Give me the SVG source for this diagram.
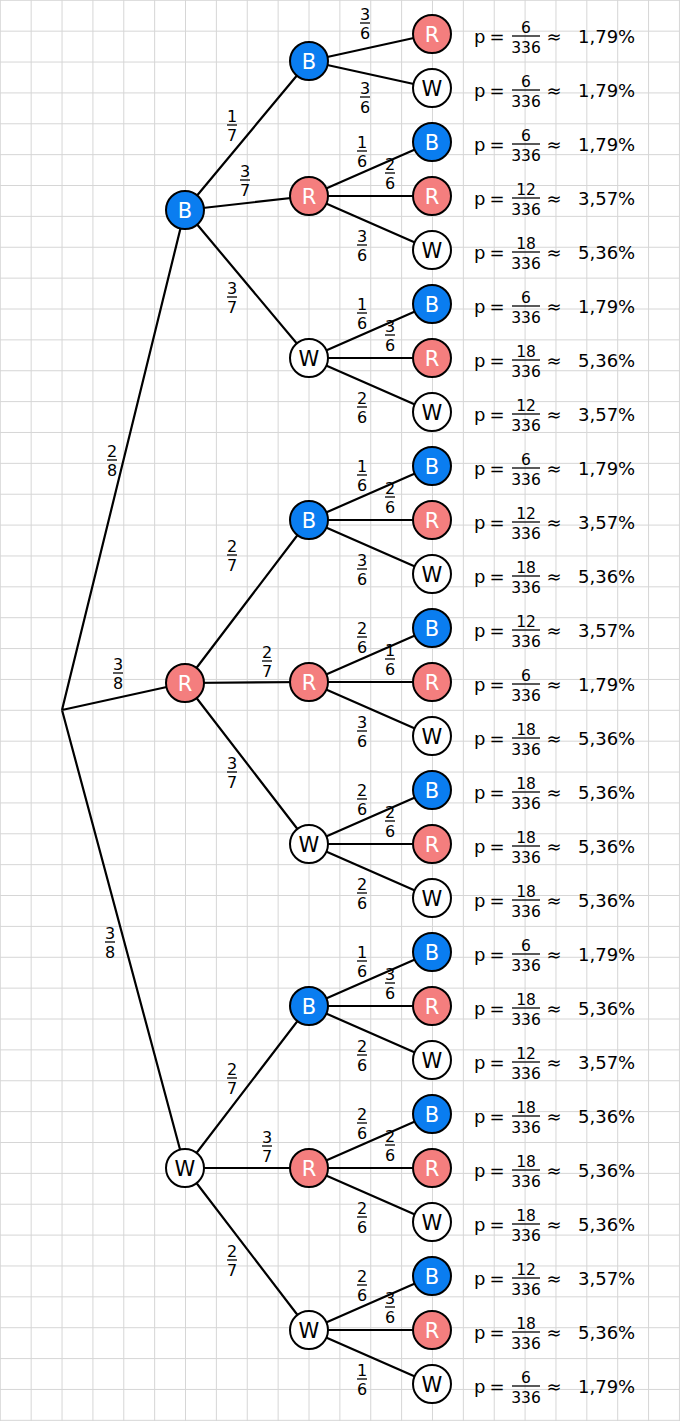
<svg xmlns="http://www.w3.org/2000/svg" width="680" height="1421" viewBox="0 0 680 1421">
<style>
.grid{stroke:#d6d6d6;stroke-width:1;fill:none}
.edge{stroke:#000;stroke-width:2.2;fill:none}
.nb{fill:#0a7df0;stroke:#000;stroke-width:2}
.nr{fill:#f47e7e;stroke:#000;stroke-width:2}
.nw{fill:#fff;stroke:#000;stroke-width:2}
.lw{font-family:"DejaVu Sans",sans-serif;font-size:21px;fill:#fff;text-anchor:middle}
.lk{font-family:"DejaVu Sans",sans-serif;font-size:21px;fill:#000;text-anchor:middle}
.f{font-family:"DejaVu Sans",sans-serif;font-size:16px;fill:#000;text-anchor:middle}
.g{font-family:"DejaVu Sans",sans-serif;font-size:15.5px;fill:#000;text-anchor:middle}
.m{font-family:"DejaVu Sans",sans-serif;font-size:18px;fill:#000}
.mc{font-family:"DejaVu Sans",sans-serif;font-size:18px;fill:#000;text-anchor:middle}
.bar{stroke:#000;stroke-width:1.3}
</style>
<defs>
<g id="pe"><text class="m" x="474" y="0">p</text><text class="mc" x="497" y="0">=</text></g>
</defs>
<rect x="0" y="0" width="680" height="1421" fill="#fff"/>
<path class="grid" d="M0.3 0V1421M31.17 0V1421M62.04 0V1421M92.91 0V1421M123.78 0V1421M154.65 0V1421M185.52 0V1421M216.39 0V1421M247.26 0V1421M278.13 0V1421M309 0V1421M339.87 0V1421M370.74 0V1421M401.61 0V1421M432.48 0V1421M463.35 0V1421M494.22 0V1421M525.09 0V1421M555.96 0V1421M586.83 0V1421M617.7 0V1421M648.57 0V1421M679.44 0V1421
M0 0.3H680M0 31.17H680M0 62.04H680M0 92.91H680M0 123.78H680M0 154.65H680M0 185.52H680M0 216.39H680M0 247.26H680M0 278.13H680M0 309H680M0 339.87H680M0 370.74H680M0 401.61H680M0 432.48H680M0 463.35H680M0 494.22H680M0 525.09H680M0 555.96H680M0 586.83H680M0 617.7H680M0 648.57H680M0 679.44H680M0 710.31H680M0 741.18H680M0 772.05H680M0 802.92H680M0 833.79H680M0 864.66H680M0 895.53H680M0 926.4H680M0 957.27H680M0 988.14H680M0 1019.01H680M0 1049.88H680M0 1080.75H680M0 1111.62H680M0 1142.49H680M0 1173.36H680M0 1204.23H680M0 1235.1H680M0 1265.97H680M0 1296.84H680M0 1327.71H680M0 1358.58H680M0 1389.45H680M0 1420.32H680"/>

<g id="connectors" class="edge">
<path d="M62 710L185 210M62 710L185 683M62 710L185 1168"/>
<path d="M185 210L309 61M185 210L309 196M185 210L309 358"/>
<path d="M185 683L309 520M185 683L309 682M185 683L309 844"/>
<path d="M185 1168L309 1006M185 1168L309 1168M185 1168L309 1330"/>
<path d="M309 61L432 34M309 61L432 88"/>
<path d="M309 196L432 142M309 196L432 196M309 196L432 250"/>
<path d="M309 358L432 304M309 358L432 358M309 358L432 412"/>
<path d="M309 520L432 466M309 520L432 520M309 520L432 574"/>
<path d="M309 682L432 628M309 682L432 682M309 682L432 736"/>
<path d="M309 844L432 790M309 844L432 844M309 844L432 898"/>
<path d="M309 1006L432 952M309 1006L432 1006M309 1006L432 1060"/>
<path d="M309 1168L432 1114M309 1168L432 1168M309 1168L432 1222"/>
<path d="M309 1330L432 1276M309 1330L432 1330M309 1330L432 1384"/>
</g>

<g id="edge-labels">
<g><text class="f" x="112" y="457">2</text><line class="bar" x1="107" x2="117" y1="460" y2="460"/><text class="f" x="112" y="476">8</text></g>
<g><text class="f" x="118" y="670">3</text><line class="bar" x1="113" x2="123" y1="673" y2="673"/><text class="f" x="118" y="689">8</text></g>
<g><text class="f" x="110" y="939">3</text><line class="bar" x1="105" x2="115" y1="942" y2="942"/><text class="f" x="110" y="958">8</text></g>

<g><text class="f" x="232" y="122">1</text><line class="bar" x1="227" x2="237" y1="125" y2="125"/><text class="f" x="232" y="141">7</text></g>
<g><text class="f" x="245" y="177">3</text><line class="bar" x1="240" x2="250" y1="180" y2="180"/><text class="f" x="245" y="196">7</text></g>
<g><text class="f" x="232" y="294">3</text><line class="bar" x1="227" x2="237" y1="297" y2="297"/><text class="f" x="232" y="313">7</text></g>
<g><text class="f" x="232" y="552">2</text><line class="bar" x1="227" x2="237" y1="555" y2="555"/><text class="f" x="232" y="571">7</text></g>
<g><text class="f" x="267" y="658">2</text><line class="bar" x1="262" x2="272" y1="661" y2="661"/><text class="f" x="267" y="677">7</text></g>
<g><text class="f" x="232" y="769">3</text><line class="bar" x1="227" x2="237" y1="772" y2="772"/><text class="f" x="232" y="788">7</text></g>
<g><text class="f" x="232" y="1075">2</text><line class="bar" x1="227" x2="237" y1="1078" y2="1078"/><text class="f" x="232" y="1094">7</text></g>
<g><text class="f" x="267" y="1143">3</text><line class="bar" x1="262" x2="272" y1="1146" y2="1146"/><text class="f" x="267" y="1162">7</text></g>
<g><text class="f" x="232" y="1257">2</text><line class="bar" x1="227" x2="237" y1="1260" y2="1260"/><text class="f" x="232" y="1276">7</text></g>

<g><text class="f" x="365" y="20">3</text><line class="bar" x1="360" x2="370" y1="23" y2="23"/><text class="f" x="365" y="39">6</text></g>
<g><text class="f" x="365" y="94">3</text><line class="bar" x1="360" x2="370" y1="97" y2="97"/><text class="f" x="365" y="113">6</text></g>

<g><text class="f" x="362" y="148">1</text><line class="bar" x1="357" x2="367" y1="151" y2="151"/><text class="f" x="362" y="167">6</text></g>
<g><text class="f" x="390" y="170">2</text><line class="bar" x1="385" x2="395" y1="173" y2="173"/><text class="f" x="390" y="189">6</text></g>
<g><text class="f" x="362" y="242">3</text><line class="bar" x1="357" x2="367" y1="245" y2="245"/><text class="f" x="362" y="261">6</text></g>

<g><text class="f" x="362" y="310">1</text><line class="bar" x1="357" x2="367" y1="313" y2="313"/><text class="f" x="362" y="329">6</text></g>
<g><text class="f" x="390" y="332">3</text><line class="bar" x1="385" x2="395" y1="335" y2="335"/><text class="f" x="390" y="351">6</text></g>
<g><text class="f" x="362" y="404">2</text><line class="bar" x1="357" x2="367" y1="407" y2="407"/><text class="f" x="362" y="423">6</text></g>

<g><text class="f" x="362" y="472">1</text><line class="bar" x1="357" x2="367" y1="475" y2="475"/><text class="f" x="362" y="491">6</text></g>
<g><text class="f" x="390" y="494">2</text><line class="bar" x1="385" x2="395" y1="497" y2="497"/><text class="f" x="390" y="513">6</text></g>
<g><text class="f" x="362" y="566">3</text><line class="bar" x1="357" x2="367" y1="569" y2="569"/><text class="f" x="362" y="585">6</text></g>

<g><text class="f" x="362" y="634">2</text><line class="bar" x1="357" x2="367" y1="637" y2="637"/><text class="f" x="362" y="653">6</text></g>
<g><text class="f" x="390" y="656">1</text><line class="bar" x1="385" x2="395" y1="659" y2="659"/><text class="f" x="390" y="675">6</text></g>
<g><text class="f" x="362" y="728">3</text><line class="bar" x1="357" x2="367" y1="731" y2="731"/><text class="f" x="362" y="747">6</text></g>

<g><text class="f" x="362" y="796">2</text><line class="bar" x1="357" x2="367" y1="799" y2="799"/><text class="f" x="362" y="815">6</text></g>
<g><text class="f" x="390" y="818">2</text><line class="bar" x1="385" x2="395" y1="821" y2="821"/><text class="f" x="390" y="837">6</text></g>
<g><text class="f" x="362" y="890">2</text><line class="bar" x1="357" x2="367" y1="893" y2="893"/><text class="f" x="362" y="909">6</text></g>

<g><text class="f" x="362" y="958">1</text><line class="bar" x1="357" x2="367" y1="961" y2="961"/><text class="f" x="362" y="977">6</text></g>
<g><text class="f" x="390" y="980">3</text><line class="bar" x1="385" x2="395" y1="983" y2="983"/><text class="f" x="390" y="999">6</text></g>
<g><text class="f" x="362" y="1052">2</text><line class="bar" x1="357" x2="367" y1="1055" y2="1055"/><text class="f" x="362" y="1071">6</text></g>

<g><text class="f" x="362" y="1120">2</text><line class="bar" x1="357" x2="367" y1="1123" y2="1123"/><text class="f" x="362" y="1139">6</text></g>
<g><text class="f" x="390" y="1142">2</text><line class="bar" x1="385" x2="395" y1="1145" y2="1145"/><text class="f" x="390" y="1161">6</text></g>
<g><text class="f" x="362" y="1214">2</text><line class="bar" x1="357" x2="367" y1="1217" y2="1217"/><text class="f" x="362" y="1233">6</text></g>

<g><text class="f" x="362" y="1282">2</text><line class="bar" x1="357" x2="367" y1="1285" y2="1285"/><text class="f" x="362" y="1301">6</text></g>
<g><text class="f" x="390" y="1304">3</text><line class="bar" x1="385" x2="395" y1="1307" y2="1307"/><text class="f" x="390" y="1323">6</text></g>
<g><text class="f" x="362" y="1376">1</text><line class="bar" x1="357" x2="367" y1="1379" y2="1379"/><text class="f" x="362" y="1395">6</text></g>
</g>

<g id="nodes">
<g id="n1B"><circle class="nb" cx="185" cy="210" r="19"/><text class="lw" x="185" y="217.6">B</text></g>
<g id="n1R"><circle class="nr" cx="185" cy="683" r="19"/><text class="lw" x="185" y="690.6">R</text></g>
<g id="n1W"><circle class="nw" cx="185" cy="1168" r="19"/><text class="lk" x="185" y="1175.6">W</text></g>

<g id="n2BB"><circle class="nb" cx="309" cy="61" r="19"/><text class="lw" x="309" y="68.6">B</text></g>
<g id="n2BR"><circle class="nr" cx="309" cy="196" r="19"/><text class="lw" x="309" y="203.6">R</text></g>
<g id="n2BW"><circle class="nw" cx="309" cy="358" r="19"/><text class="lk" x="309" y="365.6">W</text></g>
<g id="n2RB"><circle class="nb" cx="309" cy="520" r="19"/><text class="lw" x="309" y="527.6">B</text></g>
<g id="n2RR"><circle class="nr" cx="309" cy="682" r="19"/><text class="lw" x="309" y="689.6">R</text></g>
<g id="n2RW"><circle class="nw" cx="309" cy="844" r="19"/><text class="lk" x="309" y="851.6">W</text></g>
<g id="n2WB"><circle class="nb" cx="309" cy="1006" r="19"/><text class="lw" x="309" y="1013.6">B</text></g>
<g id="n2WR"><circle class="nr" cx="309" cy="1168" r="19"/><text class="lw" x="309" y="1175.6">R</text></g>
<g id="n2WW"><circle class="nw" cx="309" cy="1330" r="19"/><text class="lk" x="309" y="1337.6">W</text></g>

<g id="L01"><circle class="nr" cx="432" cy="34" r="19"/><text class="lw" x="432" y="41.6">R</text></g>
<g id="L02"><circle class="nw" cx="432" cy="88" r="19"/><text class="lk" x="432" y="95.6">W</text></g>
<g id="L03"><circle class="nb" cx="432" cy="142" r="19"/><text class="lw" x="432" y="149.6">B</text></g>
<g id="L04"><circle class="nr" cx="432" cy="196" r="19"/><text class="lw" x="432" y="203.6">R</text></g>
<g id="L05"><circle class="nw" cx="432" cy="250" r="19"/><text class="lk" x="432" y="257.6">W</text></g>
<g id="L06"><circle class="nb" cx="432" cy="304" r="19"/><text class="lw" x="432" y="311.6">B</text></g>
<g id="L07"><circle class="nr" cx="432" cy="358" r="19"/><text class="lw" x="432" y="365.6">R</text></g>
<g id="L08"><circle class="nw" cx="432" cy="412" r="19"/><text class="lk" x="432" y="419.6">W</text></g>
<g id="L09"><circle class="nb" cx="432" cy="466" r="19"/><text class="lw" x="432" y="473.6">B</text></g>
<g id="L10"><circle class="nr" cx="432" cy="520" r="19"/><text class="lw" x="432" y="527.6">R</text></g>
<g id="L11"><circle class="nw" cx="432" cy="574" r="19"/><text class="lk" x="432" y="581.6">W</text></g>
<g id="L12"><circle class="nb" cx="432" cy="628" r="19"/><text class="lw" x="432" y="635.6">B</text></g>
<g id="L13"><circle class="nr" cx="432" cy="682" r="19"/><text class="lw" x="432" y="689.6">R</text></g>
<g id="L14"><circle class="nw" cx="432" cy="736" r="19"/><text class="lk" x="432" y="743.6">W</text></g>
<g id="L15"><circle class="nb" cx="432" cy="790" r="19"/><text class="lw" x="432" y="797.6">B</text></g>
<g id="L16"><circle class="nr" cx="432" cy="844" r="19"/><text class="lw" x="432" y="851.6">R</text></g>
<g id="L17"><circle class="nw" cx="432" cy="898" r="19"/><text class="lk" x="432" y="905.6">W</text></g>
<g id="L18"><circle class="nb" cx="432" cy="952" r="19"/><text class="lw" x="432" y="959.6">B</text></g>
<g id="L19"><circle class="nr" cx="432" cy="1006" r="19"/><text class="lw" x="432" y="1013.6">R</text></g>
<g id="L20"><circle class="nw" cx="432" cy="1060" r="19"/><text class="lk" x="432" y="1067.6">W</text></g>
<g id="L21"><circle class="nb" cx="432" cy="1114" r="19"/><text class="lw" x="432" y="1121.6">B</text></g>
<g id="L22"><circle class="nr" cx="432" cy="1168" r="19"/><text class="lw" x="432" y="1175.6">R</text></g>
<g id="L23"><circle class="nw" cx="432" cy="1222" r="19"/><text class="lk" x="432" y="1229.6">W</text></g>
<g id="L24"><circle class="nb" cx="432" cy="1276" r="19"/><text class="lw" x="432" y="1283.6">B</text></g>
<g id="L25"><circle class="nr" cx="432" cy="1330" r="19"/><text class="lw" x="432" y="1337.6">R</text></g>
<g id="L26"><circle class="nw" cx="432" cy="1384" r="19"/><text class="lk" x="432" y="1391.6">W</text></g>
</g>

<g id="probabilities">
<g><use href="#pe" y="43"/><text class="g" x="526" y="33">6</text><line class="bar" x1="512" x2="540" y1="36" y2="36"/><text class="g" x="526" y="53">336</text><text class="mc" x="554" y="43">≈</text><text class="m" x="578" y="43">1,79%</text></g>
<g><use href="#pe" y="97"/><text class="g" x="526" y="87">6</text><line class="bar" x1="512" x2="540" y1="90" y2="90"/><text class="g" x="526" y="107">336</text><text class="mc" x="554" y="97">≈</text><text class="m" x="578" y="97">1,79%</text></g>
<g><use href="#pe" y="151"/><text class="g" x="526" y="141">6</text><line class="bar" x1="512" x2="540" y1="144" y2="144"/><text class="g" x="526" y="161">336</text><text class="mc" x="554" y="151">≈</text><text class="m" x="578" y="151">1,79%</text></g>
<g><use href="#pe" y="205"/><text class="g" x="526" y="195">12</text><line class="bar" x1="512" x2="540" y1="198" y2="198"/><text class="g" x="526" y="215">336</text><text class="mc" x="554" y="205">≈</text><text class="m" x="578" y="205">3,57%</text></g>
<g><use href="#pe" y="259"/><text class="g" x="526" y="249">18</text><line class="bar" x1="512" x2="540" y1="252" y2="252"/><text class="g" x="526" y="269">336</text><text class="mc" x="554" y="259">≈</text><text class="m" x="578" y="259">5,36%</text></g>
<g><use href="#pe" y="313"/><text class="g" x="526" y="303">6</text><line class="bar" x1="512" x2="540" y1="306" y2="306"/><text class="g" x="526" y="323">336</text><text class="mc" x="554" y="313">≈</text><text class="m" x="578" y="313">1,79%</text></g>
<g><use href="#pe" y="367"/><text class="g" x="526" y="357">18</text><line class="bar" x1="512" x2="540" y1="360" y2="360"/><text class="g" x="526" y="377">336</text><text class="mc" x="554" y="367">≈</text><text class="m" x="578" y="367">5,36%</text></g>
<g><use href="#pe" y="421"/><text class="g" x="526" y="411">12</text><line class="bar" x1="512" x2="540" y1="414" y2="414"/><text class="g" x="526" y="431">336</text><text class="mc" x="554" y="421">≈</text><text class="m" x="578" y="421">3,57%</text></g>
<g><use href="#pe" y="475"/><text class="g" x="526" y="465">6</text><line class="bar" x1="512" x2="540" y1="468" y2="468"/><text class="g" x="526" y="485">336</text><text class="mc" x="554" y="475">≈</text><text class="m" x="578" y="475">1,79%</text></g>
<g><use href="#pe" y="529"/><text class="g" x="526" y="519">12</text><line class="bar" x1="512" x2="540" y1="522" y2="522"/><text class="g" x="526" y="539">336</text><text class="mc" x="554" y="529">≈</text><text class="m" x="578" y="529">3,57%</text></g>
<g><use href="#pe" y="583"/><text class="g" x="526" y="573">18</text><line class="bar" x1="512" x2="540" y1="576" y2="576"/><text class="g" x="526" y="593">336</text><text class="mc" x="554" y="583">≈</text><text class="m" x="578" y="583">5,36%</text></g>
<g><use href="#pe" y="637"/><text class="g" x="526" y="627">12</text><line class="bar" x1="512" x2="540" y1="630" y2="630"/><text class="g" x="526" y="647">336</text><text class="mc" x="554" y="637">≈</text><text class="m" x="578" y="637">3,57%</text></g>
<g><use href="#pe" y="691"/><text class="g" x="526" y="681">6</text><line class="bar" x1="512" x2="540" y1="684" y2="684"/><text class="g" x="526" y="701">336</text><text class="mc" x="554" y="691">≈</text><text class="m" x="578" y="691">1,79%</text></g>
<g><use href="#pe" y="745"/><text class="g" x="526" y="735">18</text><line class="bar" x1="512" x2="540" y1="738" y2="738"/><text class="g" x="526" y="755">336</text><text class="mc" x="554" y="745">≈</text><text class="m" x="578" y="745">5,36%</text></g>
<g><use href="#pe" y="799"/><text class="g" x="526" y="789">18</text><line class="bar" x1="512" x2="540" y1="792" y2="792"/><text class="g" x="526" y="809">336</text><text class="mc" x="554" y="799">≈</text><text class="m" x="578" y="799">5,36%</text></g>
<g><use href="#pe" y="853"/><text class="g" x="526" y="843">18</text><line class="bar" x1="512" x2="540" y1="846" y2="846"/><text class="g" x="526" y="863">336</text><text class="mc" x="554" y="853">≈</text><text class="m" x="578" y="853">5,36%</text></g>
<g><use href="#pe" y="907"/><text class="g" x="526" y="897">18</text><line class="bar" x1="512" x2="540" y1="900" y2="900"/><text class="g" x="526" y="917">336</text><text class="mc" x="554" y="907">≈</text><text class="m" x="578" y="907">5,36%</text></g>
<g><use href="#pe" y="961"/><text class="g" x="526" y="951">6</text><line class="bar" x1="512" x2="540" y1="954" y2="954"/><text class="g" x="526" y="971">336</text><text class="mc" x="554" y="961">≈</text><text class="m" x="578" y="961">1,79%</text></g>
<g><use href="#pe" y="1015"/><text class="g" x="526" y="1005">18</text><line class="bar" x1="512" x2="540" y1="1008" y2="1008"/><text class="g" x="526" y="1025">336</text><text class="mc" x="554" y="1015">≈</text><text class="m" x="578" y="1015">5,36%</text></g>
<g><use href="#pe" y="1069"/><text class="g" x="526" y="1059">12</text><line class="bar" x1="512" x2="540" y1="1062" y2="1062"/><text class="g" x="526" y="1079">336</text><text class="mc" x="554" y="1069">≈</text><text class="m" x="578" y="1069">3,57%</text></g>
<g><use href="#pe" y="1123"/><text class="g" x="526" y="1113">18</text><line class="bar" x1="512" x2="540" y1="1116" y2="1116"/><text class="g" x="526" y="1133">336</text><text class="mc" x="554" y="1123">≈</text><text class="m" x="578" y="1123">5,36%</text></g>
<g><use href="#pe" y="1177"/><text class="g" x="526" y="1167">18</text><line class="bar" x1="512" x2="540" y1="1170" y2="1170"/><text class="g" x="526" y="1187">336</text><text class="mc" x="554" y="1177">≈</text><text class="m" x="578" y="1177">5,36%</text></g>
<g><use href="#pe" y="1231"/><text class="g" x="526" y="1221">18</text><line class="bar" x1="512" x2="540" y1="1224" y2="1224"/><text class="g" x="526" y="1241">336</text><text class="mc" x="554" y="1231">≈</text><text class="m" x="578" y="1231">5,36%</text></g>
<g><use href="#pe" y="1285"/><text class="g" x="526" y="1275">12</text><line class="bar" x1="512" x2="540" y1="1278" y2="1278"/><text class="g" x="526" y="1295">336</text><text class="mc" x="554" y="1285">≈</text><text class="m" x="578" y="1285">3,57%</text></g>
<g><use href="#pe" y="1339"/><text class="g" x="526" y="1329">18</text><line class="bar" x1="512" x2="540" y1="1332" y2="1332"/><text class="g" x="526" y="1349">336</text><text class="mc" x="554" y="1339">≈</text><text class="m" x="578" y="1339">5,36%</text></g>
<g><use href="#pe" y="1393"/><text class="g" x="526" y="1383">6</text><line class="bar" x1="512" x2="540" y1="1386" y2="1386"/><text class="g" x="526" y="1403">336</text><text class="mc" x="554" y="1393">≈</text><text class="m" x="578" y="1393">1,79%</text></g>
</g>
</svg>
